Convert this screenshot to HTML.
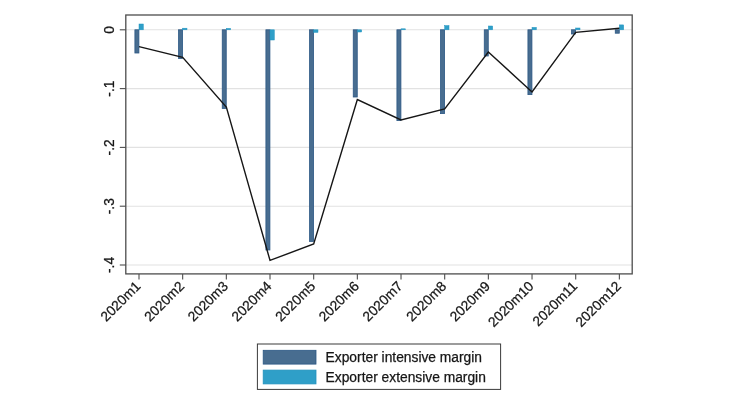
<!DOCTYPE html>
<html><head><meta charset="utf-8"><title>Chart</title>
<style>
html,body{margin:0;padding:0;background:#fff;}
body{width:730px;height:410px;overflow:hidden;}
.t{font-family:"Liberation Sans",Arial,sans-serif;font-size:13.8px;fill:#161616;stroke:#161616;stroke-width:0.25px;}
</style></head><body>
<svg width="730" height="410" viewBox="0 0 730 410" style="display:block">
<rect width="730" height="410" fill="#fff"/>
<line x1="125.8" x2="632.2" y1="29.8" y2="29.8" stroke="#e2e2e2" stroke-width="1.1"/>
<line x1="125.8" x2="632.2" y1="88.6" y2="88.6" stroke="#e2e2e2" stroke-width="1.1"/>
<line x1="125.8" x2="632.2" y1="147.4" y2="147.4" stroke="#e2e2e2" stroke-width="1.1"/>
<line x1="125.8" x2="632.2" y1="206.2" y2="206.2" stroke="#e2e2e2" stroke-width="1.1"/>
<line x1="125.8" x2="632.2" y1="265.0" y2="265.0" stroke="#e2e2e2" stroke-width="1.1"/>
<rect x="134.90" y="29.80" width="4.0" height="23.20" fill="#486d90" stroke="#2b5784" stroke-width="0.8"/>
<rect x="139.00" y="24.00" width="4.3" height="5.80" fill="#2f9fc8" stroke="#1f93c0" stroke-width="0.5"/>
<rect x="178.57" y="29.80" width="4.0" height="28.60" fill="#486d90" stroke="#2b5784" stroke-width="0.8"/>
<rect x="182.67" y="28.20" width="4.3" height="1.60" fill="#2f9fc8" stroke="#1f93c0" stroke-width="0.5"/>
<rect x="222.24" y="29.80" width="4.0" height="78.60" fill="#486d90" stroke="#2b5784" stroke-width="0.8"/>
<rect x="226.34" y="28.40" width="4.3" height="1.40" fill="#2f9fc8" stroke="#1f93c0" stroke-width="0.5"/>
<rect x="265.91" y="29.80" width="4.0" height="220.20" fill="#486d90" stroke="#2b5784" stroke-width="0.8"/>
<rect x="270.01" y="29.80" width="4.3" height="10.20" fill="#2f9fc8" stroke="#1f93c0" stroke-width="0.5"/>
<rect x="309.58" y="29.80" width="4.0" height="211.60" fill="#486d90" stroke="#2b5784" stroke-width="0.8"/>
<rect x="313.68" y="29.80" width="4.3" height="2.60" fill="#2f9fc8" stroke="#1f93c0" stroke-width="0.5"/>
<rect x="353.25" y="29.80" width="4.0" height="67.20" fill="#486d90" stroke="#2b5784" stroke-width="0.8"/>
<rect x="357.35" y="29.80" width="4.3" height="2.20" fill="#2f9fc8" stroke="#1f93c0" stroke-width="0.5"/>
<rect x="396.92" y="29.80" width="4.0" height="90.80" fill="#486d90" stroke="#2b5784" stroke-width="0.8"/>
<rect x="401.02" y="28.80" width="4.3" height="1.00" fill="#2f9fc8" stroke="#1f93c0" stroke-width="0.5"/>
<rect x="440.59" y="29.80" width="4.0" height="83.80" fill="#486d90" stroke="#2b5784" stroke-width="0.8"/>
<rect x="444.69" y="25.60" width="4.3" height="4.20" fill="#2f9fc8" stroke="#1f93c0" stroke-width="0.5"/>
<rect x="484.26" y="29.80" width="4.0" height="26.20" fill="#486d90" stroke="#2b5784" stroke-width="0.8"/>
<rect x="488.36" y="26.00" width="4.3" height="3.80" fill="#2f9fc8" stroke="#1f93c0" stroke-width="0.5"/>
<rect x="527.93" y="29.80" width="4.0" height="64.80" fill="#486d90" stroke="#2b5784" stroke-width="0.8"/>
<rect x="532.03" y="27.40" width="4.3" height="2.40" fill="#2f9fc8" stroke="#1f93c0" stroke-width="0.5"/>
<rect x="571.60" y="29.80" width="4.0" height="4.20" fill="#486d90" stroke="#2b5784" stroke-width="0.8"/>
<rect x="575.70" y="28.00" width="4.3" height="1.80" fill="#2f9fc8" stroke="#1f93c0" stroke-width="0.5"/>
<rect x="615.27" y="29.80" width="4.0" height="3.40" fill="#486d90" stroke="#2b5784" stroke-width="0.8"/>
<rect x="619.37" y="24.90" width="4.3" height="4.90" fill="#2f9fc8" stroke="#1f93c0" stroke-width="0.5"/>
<polyline points="139.00,46.6 182.67,57.4 226.34,107 270.01,260.4 313.68,244 357.35,99.6 401.02,120 444.69,109 488.36,52 532.03,92 575.70,32.4 619.37,28.2" fill="none" stroke="#161616" stroke-width="1.4" stroke-linejoin="miter"/>
<rect x="125.8" y="15.0" width="506.40000000000003" height="258.9" fill="none" stroke="#4d4d4d" stroke-width="1.3"/>
<line x1="119.8" x2="125.8" y1="29.8" y2="29.8" stroke="#4d4d4d" stroke-width="1.1"/>
<text transform="translate(114.2,29.8) rotate(-90)" text-anchor="middle" class="t">0</text>
<line x1="119.8" x2="125.8" y1="88.6" y2="88.6" stroke="#4d4d4d" stroke-width="1.1"/>
<text transform="translate(114.2,88.6) rotate(-90)" text-anchor="middle" class="t">-.1</text>
<line x1="119.8" x2="125.8" y1="147.4" y2="147.4" stroke="#4d4d4d" stroke-width="1.1"/>
<text transform="translate(114.2,147.4) rotate(-90)" text-anchor="middle" class="t">-.2</text>
<line x1="119.8" x2="125.8" y1="206.2" y2="206.2" stroke="#4d4d4d" stroke-width="1.1"/>
<text transform="translate(114.2,206.2) rotate(-90)" text-anchor="middle" class="t">-.3</text>
<line x1="119.8" x2="125.8" y1="265.0" y2="265.0" stroke="#4d4d4d" stroke-width="1.1"/>
<text transform="translate(114.2,265.0) rotate(-90)" text-anchor="middle" class="t">-.4</text>
<line x1="139.00" x2="139.00" y1="273.9" y2="279.4" stroke="#4d4d4d" stroke-width="1.1"/>
<text transform="translate(141.50,287.00) rotate(-45)" text-anchor="end" class="t">2020m1</text>
<line x1="182.67" x2="182.67" y1="273.9" y2="279.4" stroke="#4d4d4d" stroke-width="1.1"/>
<text transform="translate(185.17,287.00) rotate(-45)" text-anchor="end" class="t">2020m2</text>
<line x1="226.34" x2="226.34" y1="273.9" y2="279.4" stroke="#4d4d4d" stroke-width="1.1"/>
<text transform="translate(228.84,287.00) rotate(-45)" text-anchor="end" class="t">2020m3</text>
<line x1="270.01" x2="270.01" y1="273.9" y2="279.4" stroke="#4d4d4d" stroke-width="1.1"/>
<text transform="translate(272.51,287.00) rotate(-45)" text-anchor="end" class="t">2020m4</text>
<line x1="313.68" x2="313.68" y1="273.9" y2="279.4" stroke="#4d4d4d" stroke-width="1.1"/>
<text transform="translate(316.18,287.00) rotate(-45)" text-anchor="end" class="t">2020m5</text>
<line x1="357.35" x2="357.35" y1="273.9" y2="279.4" stroke="#4d4d4d" stroke-width="1.1"/>
<text transform="translate(359.85,287.00) rotate(-45)" text-anchor="end" class="t">2020m6</text>
<line x1="401.02" x2="401.02" y1="273.9" y2="279.4" stroke="#4d4d4d" stroke-width="1.1"/>
<text transform="translate(403.52,287.00) rotate(-45)" text-anchor="end" class="t">2020m7</text>
<line x1="444.69" x2="444.69" y1="273.9" y2="279.4" stroke="#4d4d4d" stroke-width="1.1"/>
<text transform="translate(447.19,287.00) rotate(-45)" text-anchor="end" class="t">2020m8</text>
<line x1="488.36" x2="488.36" y1="273.9" y2="279.4" stroke="#4d4d4d" stroke-width="1.1"/>
<text transform="translate(490.86,287.00) rotate(-45)" text-anchor="end" class="t">2020m9</text>
<line x1="532.03" x2="532.03" y1="273.9" y2="279.4" stroke="#4d4d4d" stroke-width="1.1"/>
<text transform="translate(534.53,287.00) rotate(-45)" text-anchor="end" class="t">2020m10</text>
<line x1="575.70" x2="575.70" y1="273.9" y2="279.4" stroke="#4d4d4d" stroke-width="1.1"/>
<text transform="translate(578.20,287.00) rotate(-45)" text-anchor="end" class="t">2020m11</text>
<line x1="619.37" x2="619.37" y1="273.9" y2="279.4" stroke="#4d4d4d" stroke-width="1.1"/>
<text transform="translate(621.87,287.00) rotate(-45)" text-anchor="end" class="t">2020m12</text>
<rect x="257.4" y="344" width="243.2" height="45.4" fill="#fff" stroke="#3a3a3a" stroke-width="1"/>
<rect x="263.2" y="350.3" width="52.8" height="13.8" fill="#486d90" stroke="#2b5784" stroke-width="0.8"/>
<rect x="263.2" y="370.1" width="52.8" height="13.8" fill="#2f9fc8" stroke="#2191bd" stroke-width="0.8"/>
<text x="325.6" y="362" class="t">Exporter intensive margin</text>
<text x="325.6" y="381.6" class="t">Exporter extensive margin</text>
</svg>
</body></html>
